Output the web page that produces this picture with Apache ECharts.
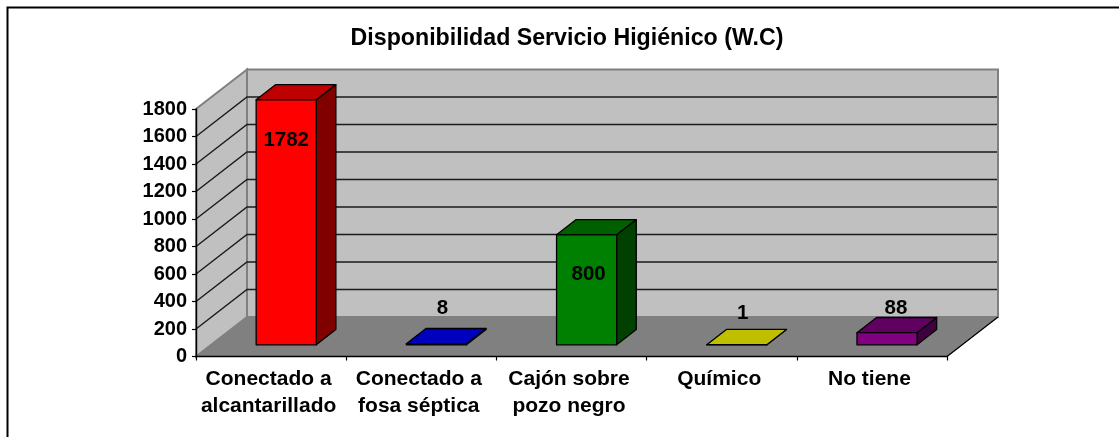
<!DOCTYPE html>
<html>
<head>
<meta charset="utf-8">
<style>
html, body { margin: 0; padding: 0; background: #fff; overflow: hidden; }
#chart { width: 1119px; height: 437px; }
</style>
<script src="https://cdn.jsdelivr.net/npm/echarts@6/dist/echarts.min.js"></script>
</head>
<body>
<div id="chart"></div>
<script>
const chartTitle = 'Disponibilidad Servicio Higiénico (W.C)';
const categories = ['Conectado a\nalcantarillado', 'Conectado a\nfosa séptica', 'Cajón sobre\npozo negro', 'Químico', 'No tiene'];
const values = [1782, 8, 800, 1, 88];
const barColors = ['#ff0000', '#0000ff', '#008000', '#ffff00', '#800080'];
const yTicks = [0, 200, 400, 600, 800, 1000, 1200, 1400, 1600, 1800];

// fake 3d: how far the back wall sits from the front plane, in px
const wallDx = 51, wallDy = -39.5;
// bars stand part way into the floor
const barFront = 0.296, barDepth = 0.385;
// the data labels were dragged around by hand in the original
const labelNudge = [[0, 40.5], [6, -35.5], [2, 39.5], [6, -31.5], [9, -24.5]];

function shade(hex, k) {
    let n = parseInt(hex.slice(1), 16);
    let r = Math.round((n >> 16) * k), g = Math.round(((n >> 8) & 255) * k), b = Math.round((n & 255) * k);
    return 'rgb(' + r + ',' + g + ',' + b + ')';
}

function renderWalls(params, api) {
    let c = params.coordSys;
    let x0 = c.x, x1 = c.x + c.width, y0 = c.y, y1 = c.y + c.height;
    let edge = { stroke: '#808080', lineWidth: 2 };
    return {
        type: 'group',
        children: [
            // left wall
            { type: 'polygon', shape: { points: [[x0, y1], [x0, y0], [x0 + wallDx, y0 + wallDy], [x0 + wallDx, y1 + wallDy]] },
              style: Object.assign({ fill: '#c0c0c0' }, edge) },
            // back wall
            { type: 'polygon', shape: { points: [[x0 + wallDx, y0 + wallDy], [x1 + wallDx, y0 + wallDy], [x1 + wallDx, y1 + wallDy], [x0 + wallDx, y1 + wallDy]] },
              style: Object.assign({ fill: '#c0c0c0' }, edge) },
            // floor
            { type: 'polygon', shape: { points: [[x0, y1], [x1, y1], [x1 + wallDx, y1 + wallDy], [x0 + wallDx, y1 + wallDy]] },
              style: { fill: '#808080', stroke: '#808080', lineWidth: 1 } },
            { type: 'line', shape: { x1: x1, y1: y1, x2: x1 + wallDx, y2: y1 + wallDy },
              style: { stroke: '#000', lineWidth: 1.2 } }
        ]
    };
}

function renderGridLine(params, api) {
    let c = params.coordSys;
    let y = api.coord([0, api.value(0)])[1];
    let x0 = c.x, x1 = c.x + c.width;
    return {
        type: 'polyline',
        shape: { points: [[x0, y], [x0 + wallDx, y + wallDy], [x1 + wallDx - 1, y + wallDy]] },
        style: { fill: null, stroke: '#1a1a1a', lineWidth: 1.4 }
    };
}

function renderBar(params, api) {
    let i = api.value(0), v = api.value(1);
    let base = api.coord([i, 0]), top = api.coord([i, v]);
    let w = api.size([1, 0])[0] * 0.4;
    let fx = wallDx * barFront, fy = wallDy * barFront;
    let dx = wallDx * barDepth, dy = wallDy * barDepth;
    let xl = base[0] - w / 2 + fx, xr = base[0] + w / 2 + fx;
    let yb = base[1] + fy, yt = top[1] + fy;
    let color = barColors[i];
    let line = { stroke: '#000', lineWidth: 1.3, lineJoin: 'round' };
    let nudge = labelNudge[i];
    return {
        type: 'group',
        children: [
            { type: 'polygon', shape: { points: [[xr, yb], [xr, yt], [xr + dx, yt + dy], [xr + dx, yb + dy]] },
              style: Object.assign({ fill: shade(color, 0.5) }, line) },
            { type: 'polygon', shape: { points: [[xl, yt], [xr, yt], [xr + dx, yt + dy], [xl + dx, yt + dy]] },
              style: Object.assign({ fill: shade(color, 0.75) }, line) },
            { type: 'rect', shape: { x: xl, y: yt, width: w, height: yb - yt },
              style: Object.assign({ fill: color }, line) },
            { type: 'text', x: (xl + xr) / 2 + nudge[0], y: yt + nudge[1], z2: 10,
              style: { text: String(v), fill: '#000', align: 'center', verticalAlign: 'middle',
                       font: 'bold 20.5px "Liberation Sans", Arial, sans-serif' } }
        ]
    };
}

let chart = echarts.init(document.getElementById('chart'), null, { renderer: 'canvas' });
chart.setOption({
    animation: false,
    backgroundColor: '#fff',
    textStyle: { fontFamily: '"Liberation Sans", Arial, sans-serif' },
    title: {
        text: chartTitle,
        left: 562,
        top: 22,
        textAlign: 'center',
        textStyle: { fontSize: 23.2, fontWeight: 'bold', color: '#000' }
    },
    graphic: [{
        type: 'rect', silent: true, z: -1,
        shape: { x: 7.5, y: 7.5, width: 1300, height: 600 },
        style: { fill: null, stroke: '#000', lineWidth: 2 }
    }],
    grid: { left: 196, right: 172, top: 109, bottom: 80.5 },
    xAxis: {
        type: 'category',
        data: categories,
        z: 4,
        axisLine: { lineStyle: { color: '#000', width: 1.4 } },
        axisTick: { show: true, alignWithLabel: false, length: 4, lineStyle: { color: '#000', width: 1.2 } },
        axisLabel: { color: '#000', fontWeight: 'bold', fontSize: 21, lineHeight: 27, margin: 9, interval: 0, padding: [0, 5, 0, 0] }
    },
    yAxis: {
        type: 'value',
        min: 0,
        max: 1800,
        interval: 200,
        z: 4,
        axisLine: { show: true, lineStyle: { color: '#000', width: 1.4 } },
        axisTick: { show: true, length: 4, lineStyle: { color: '#000', width: 1.2 } },
        axisLabel: { color: '#000', fontWeight: 'bold', fontSize: 20, margin: 9, formatter: v => String(v) },
        splitLine: { show: false }
    },
    series: [
        { type: 'custom', silent: true, z: 1, data: [0], renderItem: renderWalls, encode: { x: -1, y: -1 } },
        // 0 and 1800 are the wall edges, no black line there
        { type: 'custom', silent: true, z: 2, data: yTicks.slice(1, -1).map(t => [t]), renderItem: renderGridLine, encode: { y: 0 } },
        { type: 'custom', silent: true, z: 3, data: values.map((v, i) => [i, v]), renderItem: renderBar, encode: { x: 0, y: 1 } }
    ]
});
</script>
</body>
</html>
